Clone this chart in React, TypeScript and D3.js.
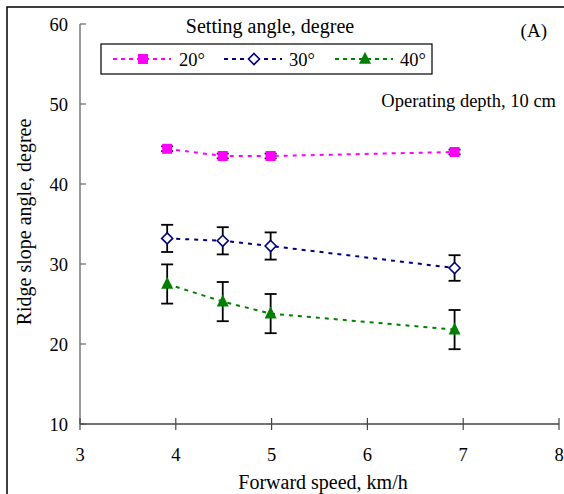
import React from "react";
import * as d3 from "d3";

// Forward speed (km/h) at which each setting angle was tested
const speeds20 = [3.91, 4.49, 4.99, 6.91];
const speeds30 = [3.91, 4.49, 4.99, 6.91];
const speeds40 = [3.91, 4.49, 4.99, 6.91];

// Mean ridge slope angle (degree) per setting angle
const slope20 = [44.4, 43.5, 43.5, 44.0];
const slope30 = [33.2, 32.9, 32.25, 29.5];
const slope40 = [27.5, 25.3, 23.8, 21.8];

// Error bar half-widths (degree)
const err20 = [0.3, 0.3, 0.3, 0.3];
const err30 = [1.7, 1.7, 1.7, 1.6];
const err40 = [2.45, 2.45, 2.45, 2.45];

const seriesNames = ["20°", "30°", "40°"];
const xTicks = [3, 4, 5, 6, 7, 8];
const yTicks = [10, 20, 30, 40, 50, 60];

const FONT = "Liberation Serif, Times New Roman, Times, DejaVu Serif, serif";

type Series = {
  name: string;
  color: string;
  marker: "square" | "diamond" | "triangle";
  xs: number[];
  ys: number[];
  es: number[];
};

const series: Series[] = [
  { name: seriesNames[0], color: "#ff00ff", marker: "square", xs: speeds20, ys: slope20, es: err20 },
  { name: seriesNames[1], color: "#000080", marker: "diamond", xs: speeds30, ys: slope30, es: err30 },
  { name: seriesNames[2], color: "#008000", marker: "triangle", xs: speeds40, ys: slope40, es: err40 },
];

function Marker({ kind, color, cx, cy }: { kind: Series["marker"]; color: string; cx: number; cy: number }) {
  if (kind === "square") {
    return <rect x={cx - 5} y={cy - 5} width={10} height={10} fill={color} />;
  }
  if (kind === "diamond") {
    const r = 5.5;
    return (
      <path
        d={`M${cx},${cy - r}L${cx + r},${cy}L${cx},${cy + r}L${cx - r},${cy}Z`}
        fill="#ffffff"
        stroke={color}
        strokeWidth={1.6}
      />
    );
  }
  const h = 12;
  const w = 12;
  return (
    <path
      d={`M${cx},${cy - h * 0.6}L${cx + w / 2},${cy + h * 0.4}L${cx - w / 2},${cy + h * 0.4}Z`}
      fill={color}
    />
  );
}

export default function App() {
  const W = 564;
  const H = 494;
  const x = d3.scaleLinear().domain([3, 8]).range([80, 559]);
  const y = d3.scaleLinear().domain([10, 60]).range([424, 24]);

  const line = d3
    .line<[number, number]>()
    .x((d) => x(d[0]))
    .y((d) => y(d[1]));

  const legendItems = [
    { x0: 113, x1: 171, mx: 143, tx: 179 },
    { x0: 224, x1: 282, mx: 254, tx: 289 },
    { x0: 335, x1: 393, mx: 365, tx: 400 },
  ];
  const legendY = 59;

  return (
    <svg
      width={W}
      height={H}
      style={{ position: "absolute", left: 0, top: 0, background: "#ffffff", fontFamily: FONT }}
    >
      <rect x={0} y={0} width={W} height={H} fill="#ffffff" />
      {/* outer frame */}
      <rect x={7} y={7} width={W + 20} height={H + 20} fill="none" stroke="#000" strokeWidth={1.5} />

      {/* y axis */}
      <line x1={80} x2={80} y1={y(60)} y2={y(10)} stroke="#777" strokeWidth={1.5} />
      {yTicks.map((t) => (
        <g key={`y${t}`}>
          <line x1={80} x2={86} y1={y(t)} y2={y(t)} stroke="#666" strokeWidth={1.2} />
          <text x={68} y={y(t)} dy="0.36em" textAnchor="end" fontSize={18.5} fill="#000">
            {t}
          </text>
        </g>
      ))}

      {/* x axis */}
      <line x1={x(3)} x2={x(8)} y1={424} y2={424} stroke="#444" strokeWidth={1.5} />
      {xTicks.map((t) => (
        <g key={`x${t}`}>
          <line x1={x(t)} x2={x(t)} y1={418} y2={430} stroke="#444" strokeWidth={1.2} />
          <text x={x(t)} y={461} textAnchor="middle" fontSize={18.5} fill="#000">
            {t}
          </text>
        </g>
      ))}

      <text x={323} y={489} textAnchor="middle" fontSize={20} fill="#000">
        Forward speed, km/h
      </text>
      <text
        transform={`translate(31,222) rotate(-90)`}
        textAnchor="middle"
        fontSize={20}
        fill="#000"
      >
        Ridge slope angle, degree
      </text>

      {/* series */}
      {series.map((s) => {
        const pts = s.xs.map((v, i) => [v, s.ys[i]] as [number, number]);
        return (
          <g key={s.name}>
            <path
              d={line(pts) ?? ""}
              fill="none"
              stroke={s.color}
              strokeWidth={2}
              strokeDasharray="4,5"
            />
            {pts.map(([vx, vy], i) => {
              const cx = x(vx);
              const top = y(vy + s.es[i]);
              const bot = y(vy - s.es[i]);
              return (
                <g key={i} stroke="#000" strokeWidth={1.8}>
                  <line x1={cx} x2={cx} y1={top} y2={bot} />
                  <line x1={cx - 6} x2={cx + 6} y1={top} y2={top} />
                  <line x1={cx - 6} x2={cx + 6} y1={bot} y2={bot} />
                </g>
              );
            })}
            {pts.map(([vx, vy], i) => (
              <Marker key={`m${i}`} kind={s.marker} color={s.color} cx={x(vx)} cy={y(vy)} />
            ))}
          </g>
        );
      })}

      {/* legend */}
      <text x={270} y={33} textAnchor="middle" fontSize={20} fill="#000">
        Setting angle, degree
      </text>
      <rect x={101} y={44} width={331} height={30} fill="#ffffff" stroke="#000" strokeWidth={1.2} />
      {series.map((s, i) => {
        const it = legendItems[i];
        return (
          <g key={`lg${s.name}`}>
            <line
              x1={it.x0}
              x2={it.x1}
              y1={legendY}
              y2={legendY}
              stroke={s.color}
              strokeWidth={2}
              strokeDasharray="4,4"
            />
            <Marker kind={s.marker} color={s.color} cx={it.mx} cy={legendY} />
            <text x={it.tx} y={legendY} dy="0.36em" fontSize={18.5} fill="#000">
              {s.name}
            </text>
          </g>
        );
      })}

      <text x={547} y={37} textAnchor="end" fontSize={19} fill="#000">
        (A)
      </text>
      <text x={556} y={107} textAnchor="end" fontSize={18.5} fill="#000">
        Operating depth, 10 cm
      </text>
    </svg>
  );
}
